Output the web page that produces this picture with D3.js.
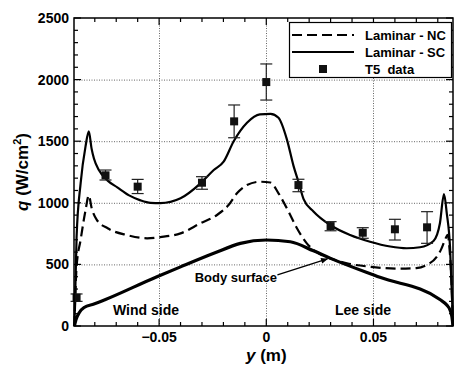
<!DOCTYPE html>
<html>
<head>
<meta charset="utf-8">
<script src="https://cdn.jsdelivr.net/npm/d3@7"></script>
<style>
  body { margin: 0; background: #fff; }
  svg { display: block; font-family: "Liberation Sans", Arial, sans-serif; font-weight: bold; }
</style>
</head>
<body>
<svg id="chart" width="454" height="366"></svg>
<script>
'use strict'

// Laminar - SC (solid)
var scY = [-0.0895, -0.0885, -0.0866, -0.0843, -0.0828, -0.0815, -0.0804, -0.0781, -0.074, -0.0695, -0.064, -0.0587, -0.054, -0.0494, -0.040, -0.0307, -0.0245, -0.0199, -0.0152, -0.009, -0.003, 0.002, 0.0057, 0.0096, 0.0127, 0.015, 0.0174, 0.022, 0.0298, 0.0391, 0.0484, 0.0578, 0.0655, 0.0717, 0.078, 0.081, 0.0829, 0.0842, 0.0857, 0.0867, 0.0871]
var scQ = [0, 720, 1160, 1460, 1580, 1440, 1360, 1266, 1180, 1125, 1060, 1020, 1000, 998, 1037, 1158, 1266, 1334, 1500, 1650, 1718, 1722, 1690, 1515, 1300, 1170, 1030, 930, 820, 739, 684, 645, 631, 639, 690, 834, 1070, 915, 644, 200, 0]

// Laminar - NC (dashed)
var ncY = [-0.0895, -0.0885, -0.0866, -0.0843, -0.0828, -0.0815, -0.079, -0.074, -0.065, -0.0556, -0.0494, -0.040, -0.0307, -0.023, -0.0176, -0.0137, -0.009, -0.0028, 0.0019, 0.0057, 0.0104, 0.0143, 0.0189, 0.0244, 0.0298, 0.0376, 0.0484, 0.0624, 0.070, 0.0748, 0.0795, 0.0815, 0.0834, 0.0846, 0.0856, 0.0863, 0.0868, 0.0871]
var ncQ = [0, 480, 700, 942, 1060, 960, 860, 793, 738, 712, 722, 752, 834, 901, 982, 1077, 1144, 1171, 1165, 1077, 928, 793, 671, 590, 549, 509, 481, 465, 470, 495, 562, 620, 700, 740, 600, 400, 150, 0]

// Body surface profile
var bodyY = [-0.0895, -0.0888, -0.0872, -0.085, -0.0804, -0.051, -0.040, -0.0245, -0.0121, 0, 0.0112, 0.022, 0.030, 0.053, 0.081, 0.0842, 0.0857, 0.0866, 0.0871]
var bodyQ = [0, 50, 110, 150, 178, 400, 480, 590, 671, 698, 684, 610, 549, 395, 215, 170, 130, 75, 0]

// T5 data with error bars
var t5Y = [-0.0885, -0.075, -0.060, -0.030, -0.015, 0, 0.015, 0.030, 0.045, 0.060, 0.075]
var t5Q = [230, 1223, 1131, 1163, 1661, 1980, 1144, 811, 757, 785, 801]
var t5Lo = [200, 1185, 1075, 1110, 1528, 1834, 1090, 773, 712, 698, 671]
var t5Hi = [260, 1266, 1190, 1212, 1794, 2127, 1191, 847, 798, 866, 928]

var xTicks = [-0.05, 0, 0.05]
var yTicks = [0, 500, 1000, 1500, 2000, 2500]

var svg = d3.select('#chart')
  , L = 74, R = 453, T = 18, B = 326
  , x = d3.scaleLinear().domain([-0.0897, 0.0871]).range([L, R])
  , y = d3.scaleLinear().domain([0, 2500]).range([B, T])

var zip = function(a, b){ return a.map(function(v, i){ return [v, b[i]] }) }
var line = d3.line().x(function(d){ return x(d[0]) }).y(function(d){ return y(d[1]) }).curve(d3.curveMonotoneX)

// gridlines
var grid = svg.append('g').attr('stroke', '#666').attr('stroke-width', 1).attr('stroke-dasharray', '1,1.5')
grid.selectAll('line.gy').data([500, 1000, 1500, 2000]).enter().append('line')
  .attr('x1', L).attr('x2', R).attr('y1', function(d){ return y(d) + 0.5 }).attr('y2', function(d){ return y(d) + 0.5 })
grid.selectAll('line.gx').data(xTicks).enter().append('line')
  .attr('y1', T).attr('y2', B).attr('x1', function(d){ return Math.round(x(d)) + 0.5 }).attr('x2', function(d){ return Math.round(x(d)) + 0.5 })

// inward ticks on all four sides
var ticks = svg.append('g').attr('stroke', '#000').attr('stroke-width', 1.2)
var xMinor = d3.range(-8, 9).map(function(i){ return i / 100 })
xMinor.forEach(function(v){
  var major = Math.abs(Math.round(v * 100) % 5) === 0, len = major ? 7 : 4
  ticks.append('line').attr('x1', x(v)).attr('x2', x(v)).attr('y1', B).attr('y2', B - len)
  ticks.append('line').attr('x1', x(v)).attr('x2', x(v)).attr('y1', T).attr('y2', T + len)
})
d3.range(0, 2501, 100).forEach(function(v){
  var len = v % 500 === 0 ? 7 : 4
  ticks.append('line').attr('x1', L).attr('x2', L + len).attr('y1', y(v)).attr('y2', y(v))
  ticks.append('line').attr('x1', R).attr('x2', R - len).attr('y1', y(v)).attr('y2', y(v))
})

// tick labels
svg.append('g').selectAll('text').data(yTicks).enter().append('text')
  .attr('x', L - 5).attr('y', function(d){ return y(d) + 5 }).attr('text-anchor', 'end')
  .attr('font-size', 14).text(function(d){ return d })
svg.append('g').selectAll('text').data(xTicks).enter().append('text')
  .attr('x', function(d){ return x(d) }).attr('y', B + 16).attr('text-anchor', 'middle')
  .attr('font-size', 14).text(function(d){ return d === 0 ? '0' : d3.format('.2f')(d) })

// axis titles
var xt = svg.append('text').attr('x', x(0)).attr('y', 361).attr('text-anchor', 'middle').attr('font-size', 17)
xt.append('tspan').attr('font-style', 'italic').text('y')
xt.append('tspan').text(' (m)')
var yt = svg.append('text').attr('transform', 'translate(28,172) rotate(-90)').attr('text-anchor', 'middle').attr('font-size', 17)
yt.append('tspan').attr('font-style', 'italic').text('q')
yt.append('tspan').text(' (W/cm')
yt.append('tspan').attr('font-size', 11).attr('dy', -7).text('2')
yt.append('tspan').attr('dy', 7).text(')')

// curves
svg.append('path').datum(zip(bodyY, bodyQ)).attr('d', line).attr('fill', 'none').attr('stroke', '#000').attr('stroke-width', 3.2)
svg.append('path').datum(zip(ncY, ncQ)).attr('d', line).attr('fill', 'none').attr('stroke', '#000').attr('stroke-width', 2.2).attr('stroke-dasharray', '10,5')
svg.append('path').datum(zip(scY, scQ)).attr('d', line).attr('fill', 'none').attr('stroke', '#000').attr('stroke-width', 2.2)

// T5 data with error bars
var pts = svg.append('g').selectAll('g').data(t5Y.map(function(v, i){ return { y: v, q: t5Q[i], lo: t5Lo[i], hi: t5Hi[i] } })).enter().append('g')
pts.append('line').attr('x1', function(d){ return x(d.y) }).attr('x2', function(d){ return x(d.y) })
  .attr('y1', function(d){ return y(d.lo) }).attr('y2', function(d){ return y(d.hi) }).attr('stroke', '#222').attr('stroke-width', 1.2)
;['lo', 'hi'].forEach(function(k){
  pts.append('line').attr('x1', function(d){ return x(d.y) - 6 }).attr('x2', function(d){ return x(d.y) + 6 })
    .attr('y1', function(d){ return y(d[k]) }).attr('y2', function(d){ return y(d[k]) }).attr('stroke', '#222').attr('stroke-width', 1.2)
})
pts.append('rect').attr('x', function(d){ return x(d.y) - 4 }).attr('y', function(d){ return y(d.q) - 4 })
  .attr('width', 8).attr('height', 8).attr('fill', '#111')

// annotations
svg.append('text').attr('x', x(-0.0715)).attr('y', 315).attr('font-size', 14).text('Wind side')
svg.append('text').attr('x', x(0.0451)).attr('y', 315).attr('text-anchor', 'middle').attr('font-size', 14).text('Lee side')
svg.append('text').attr('x', x(-0.0334)).attr('y', 282).attr('font-size', 13).text('Body surface')
svg.append('defs').append('marker').attr('id', 'arr').attr('viewBox', '0 0 10 10').attr('refX', 9).attr('refY', 5)
  .attr('markerWidth', 9).attr('markerHeight', 7).attr('markerUnits', 'userSpaceOnUse').attr('orient', 'auto')
  .append('path').attr('d', 'M0,1 L10,5 L0,9 Z').attr('fill', '#000')
svg.append('line').attr('x1', x(0.0052)).attr('y1', y(415)).attr('x2', x(0.0285)).attr('y2', y(545))
  .attr('stroke', '#000').attr('stroke-width', 1.3).attr('marker-end', 'url(#arr)')

// frame
svg.append('rect').attr('x', L).attr('y', T).attr('width', R - L).attr('height', B - T)
  .attr('fill', 'none').attr('stroke', '#000').attr('stroke-width', 1.5)

// legend
var lg = svg.append('g')
lg.append('rect').attr('x', 289.5).attr('y', 22.5).attr('width', 162).attr('height', 55).attr('fill', '#fff').attr('stroke', '#000').attr('stroke-width', 1.2)
lg.append('line').attr('x1', 292).attr('x2', 354).attr('y1', 35).attr('y2', 35).attr('stroke', '#000').attr('stroke-width', 2.2).attr('stroke-dasharray', '10,5')
lg.append('line').attr('x1', 292).attr('x2', 354).attr('y1', 52).attr('y2', 52).attr('stroke', '#000').attr('stroke-width', 2.2)
lg.append('rect').attr('x', 319).attr('y', 65).attr('width', 8).attr('height', 8).attr('fill', '#111')
lg.selectAll('text').data(['Laminar - NC', 'Laminar - SC', 'T5  data']).enter().append('text')
  .attr('x', 365).attr('y', function(d, i){ return 40 + i * 17 }).attr('font-size', 13).style('white-space', 'pre')
  .text(function(d){ return d })
</script>
</body>
</html>
